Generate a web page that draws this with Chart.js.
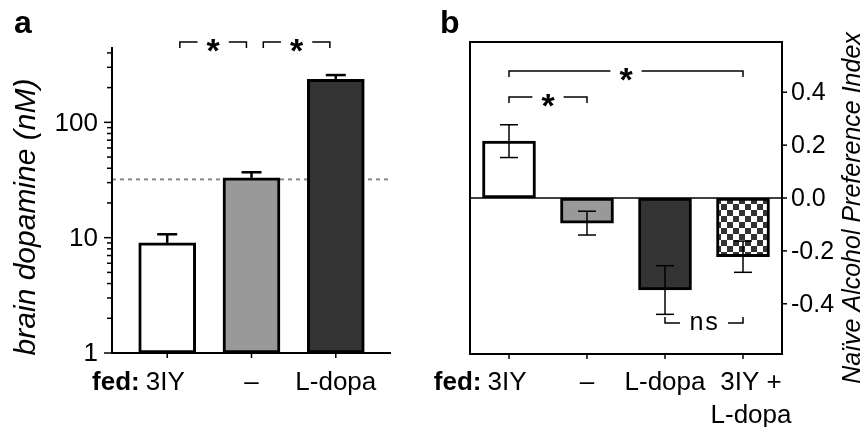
<!DOCTYPE html>
<html>
<head>
<meta charset="utf-8">
<script src="https://cdn.jsdelivr.net/npm/chart.js@4.4.1/dist/chart.umd.min.js"></script>
<style>
body { margin: 0; background: #fff; }
#wrap { position: relative; width: 866px; height: 427px; }
canvas { position: absolute; top: 0; }
#dopa { left: 0; }
#pref { left: 433px; }
</style>
</head>
<body>
<div id="wrap">
<canvas id="dopa" width="433" height="427"></canvas>
<canvas id="pref" width="433" height="427"></canvas>
</div>
<script>
// panel a - brain dopamine (log scale)
const dopaLabels = ['3IY', '–', 'L-dopa']
const dopaValues = [9.0, 33, 236]
const dopaErrors = [1.7, 3.9, 21]
const dopaColors = ['#ffffff', '#999999', '#333333']
const dopaTicks = [1, 10, 100]
const dopaMinorTicks = [2, 3, 4, 5, 6, 7, 8, 9, 20, 30, 40, 50, 60, 70, 80, 90, 200, 300, 400]
const controlLevel = 32
const dopaSig = [[0.15, 0.94, '*'], [1.14, 1.93, '*']]

// panel b - naive alcohol preference
const prefLabels = [['3IY'], ['–'], ['L-dopa'], ['3IY +', 'L-dopa']]
const prefValues = [0.215, -0.095, -0.348, -0.222]
const prefErrors = [0.062, 0.045, 0.092, 0.059]
const prefTicks = [-0.4, -0.2, 0, 0.2, 0.4]
const prefSig = [[0, 3, '*', 'down'], [0, 1, '*', 'down'], [2, 3, 'ns', 'up']]

const FONT = "'Liberation Sans', Arial, sans-serif"

function checkerboard() {
    let c = document.createElement('canvas')
    c.width = 12; c.height = 12
    let g = c.getContext('2d')
    g.fillStyle = '#fff'
    g.fillRect(0, 0, 12, 12)
    g.fillStyle = '#333'
    g.fillRect(0, 0, 6, 6)
    g.fillRect(6, 6, 6, 6)
    return document.getElementById('pref').getContext('2d').createPattern(c, 'repeat')
}
const prefColors = ['#ffffff', '#999999', '#333333', checkerboard()]

function line(ctx, x1, y1, x2, y2) {
    ctx.beginPath()
    ctx.moveTo(x1, y1)
    ctx.lineTo(x2, y2)
    ctx.stroke()
}

function bracket(ctx, x1, x2, y, label, dir, bigFont, baseOff) {
    let end = dir == 'up' ? -6 : 6
    ctx.font = bigFont
    let w = ctx.measureText(label).width
    let mid = (x1 + x2) / 2
    let half = w / 2 + 9
    ctx.strokeStyle = '#000'
    ctx.lineWidth = 1.5
    ctx.beginPath()
    ctx.moveTo(x1, y + end)
    ctx.lineTo(x1, y)
    ctx.lineTo(mid - half, y)
    ctx.moveTo(mid + half, y)
    ctx.lineTo(x2, y)
    ctx.lineTo(x2, y + end)
    ctx.stroke()
    ctx.fillStyle = '#000'
    ctx.textAlign = 'center'
    ctx.textBaseline = 'alphabetic'
    ctx.fillText(label, mid, y + baseOff)
}

function fedLabel(ctx, x, y, first) {
    ctx.font = '26px ' + FONT
    let w = ctx.measureText(first).width
    ctx.textAlign = 'center'
    ctx.textBaseline = 'middle'
    ctx.fillText(first, x, y)
    ctx.font = 'bold 26px ' + FONT
    ctx.textAlign = 'right'
    ctx.fillText('fed:', x - w / 2 - 6, y)
}

const dopaPlugin = {
    id: 'dopaAxes',
    beforeDatasetsDraw(chart) {
        const {ctx, chartArea: a, scales: {y}} = chart
        ctx.save()
        ctx.strokeStyle = '#888'
        ctx.lineWidth = 2
        ctx.setLineDash([4, 4])
        let yy = y.getPixelForValue(controlLevel)
        line(ctx, a.left, yy, a.right - 3, yy)
        ctx.restore()
    },
    afterDatasetsDraw(chart) {
        const {ctx, scales: {x, y}} = chart
        ctx.save()
        ctx.strokeStyle = '#000'
        ctx.lineWidth = 2.5
        dopaValues.forEach((v, i) => {
            let px = x.getPixelForValue(i)
            let top = y.getPixelForValue(v + dopaErrors[i])
            line(ctx, px, y.getPixelForValue(v), px, top)
            line(ctx, px - 10, top, px + 10, top)
        })
        ctx.restore()
    },
    afterDraw(chart) {
        const {ctx, chartArea: a, scales: {x, y}} = chart
        ctx.save()
        ctx.strokeStyle = '#000'
        ctx.fillStyle = '#000'
        ctx.lineWidth = 2
        line(ctx, a.left, a.top, a.left, a.bottom + 1)
        line(ctx, a.left - 1, a.bottom, a.right, a.bottom)
        ctx.lineWidth = 1.5
        dopaMinorTicks.forEach(v => {
            let yy = y.getPixelForValue(v)
            line(ctx, a.left - 5, yy, a.left, yy)
        })
        ctx.font = '26px ' + FONT
        ctx.textAlign = 'right'
        ctx.textBaseline = 'middle'
        dopaTicks.forEach(v => {
            let yy = y.getPixelForValue(v)
            line(ctx, a.left - 8, yy, a.left, yy)
            ctx.fillText(String(v), a.left - 14, yy + 1)
        })
        dopaLabels.forEach((l, i) => {
            let px = x.getPixelForValue(i)
            line(ctx, px, a.bottom, px, a.bottom + 5)
            if (i == 0) {
                fedLabel(ctx, px - 2, 383, l)
            } else {
                ctx.font = '26px ' + FONT
                ctx.textAlign = 'center'
                ctx.fillText(l, px, 383)
            }
        })
        dopaSig.forEach(s => {
            bracket(ctx, x.getPixelForValue(s[0]), x.getPixelForValue(s[1]), 42, s[2], 'down', 'bold 34px ' + FONT, 20)
        })
        // axis title and panel letter
        ctx.save()
        ctx.translate(27, 217)
        ctx.rotate(-Math.PI / 2)
        ctx.font = 'italic 30px ' + FONT
        ctx.textAlign = 'center'
        ctx.textBaseline = 'middle'
        ctx.fillText('brain dopamine (nM)', 0, 0)
        ctx.restore()
        ctx.font = 'bold 32px ' + FONT
        ctx.textAlign = 'left'
        ctx.textBaseline = 'alphabetic'
        ctx.fillText('a', 14, 33)
        ctx.restore()
    }
}

const prefPlugin = {
    id: 'prefAxes',
    beforeDatasetsDraw(chart) {
        const {ctx, chartArea: a, scales: {y}} = chart
        ctx.save()
        ctx.strokeStyle = '#000'
        ctx.lineWidth = 1.5
        let y0 = y.getPixelForValue(0)
        line(ctx, a.left, y0, a.right, y0)
        ctx.restore()
    },
    afterDatasetsDraw(chart) {
        const {ctx, scales: {x, y}} = chart
        ctx.save()
        ctx.strokeStyle = '#000'
        ctx.lineWidth = 1.5
        prefValues.forEach((v, i) => {
            let px = x.getPixelForValue(i)
            let hi = y.getPixelForValue(v + prefErrors[i])
            let lo = y.getPixelForValue(v - prefErrors[i])
            line(ctx, px, hi, px, lo)
            line(ctx, px - 9, hi, px + 9, hi)
            line(ctx, px - 9, lo, px + 9, lo)
        })
        ctx.restore()
    },
    afterDraw(chart) {
        const {ctx, chartArea: a, scales: {x, y}} = chart
        ctx.save()
        ctx.strokeStyle = '#000'
        ctx.fillStyle = '#000'
        ctx.lineWidth = 2
        ctx.strokeRect(a.left, a.top, a.right - a.left, a.bottom - a.top)
        ctx.lineWidth = 1.5
        ctx.font = '25px ' + FONT
        ctx.textAlign = 'left'
        ctx.textBaseline = 'middle'
        prefTicks.forEach(v => {
            let yy = y.getPixelForValue(v)
            line(ctx, a.right, yy, a.right + 5, yy)
            ctx.fillText(v.toFixed(1), a.right + 9, yy + 1)
        })
        prefLabels.forEach((l, i) => {
            let px = x.getPixelForValue(i)
            line(ctx, px, a.bottom, px, a.bottom + 5)
            if (i == 0) {
                fedLabel(ctx, px - 2, 383, l[0])
            } else {
                ctx.font = '26px ' + FONT
                ctx.textAlign = 'center'
                ctx.textBaseline = 'middle'
                let off = l.length > 1 ? 8 : 0
                l.forEach((t, k) => ctx.fillText(t, px + off, 383 + k * 33))
            }
        })
        prefSig.forEach(s => {
            let x1 = x.getPixelForValue(s[0]), x2 = x.getPixelForValue(s[1])
            if (s[2] == 'ns') {
                bracket(ctx, x1, x2, 323, s[2], 'up', '25px "Liberation Mono", "Courier New", monospace', 7)
            } else {
                let yy = s[1] == 3 ? 71 : 97
                bracket(ctx, x1, x2, yy, s[2], 'down', 'bold 34px ' + FONT, 20)
            }
        })
        ctx.save()
        ctx.translate(420, 208)
        ctx.rotate(-Math.PI / 2)
        ctx.font = 'italic 25px ' + FONT
        ctx.textAlign = 'center'
        ctx.textBaseline = 'middle'
        ctx.fillText('Naïve Alcohol Preference Index', 0, 0)
        ctx.restore()
        ctx.font = 'bold 32px ' + FONT
        ctx.textAlign = 'left'
        ctx.textBaseline = 'alphabetic'
        ctx.fillText('b', 7, 33)
        ctx.restore()
    }
}

new Chart(document.getElementById('dopa'), {
    type: 'bar',
    data: {
        datasets: [{
            data: dopaValues.map((v, i) => ({x: i, y: v})),
            backgroundColor: dopaColors,
            borderColor: '#000',
            borderWidth: 3,
            borderSkipped: false,
            barThickness: 57
        }]
    },
    options: {
        responsive: false,
        animation: false,
        events: [],
        layout: {padding: {left: 112, right: 42, top: 47, bottom: 74}},
        plugins: {legend: {display: false}, tooltip: {enabled: false}},
        scales: {
            x: {type: 'linear', display: false, offset: false, min: -0.655, max: 2.655},
            y: {type: 'logarithmic', display: false, min: 1, max: 450}
        }
    },
    plugins: [dopaPlugin]
})

new Chart(document.getElementById('pref'), {
    type: 'bar',
    data: {
        labels: prefLabels.map(l => l.join(' ')),
        datasets: [{
            data: prefValues,
            backgroundColor: prefColors,
            borderColor: '#000',
            borderWidth: 3,
            borderSkipped: false,
            barThickness: 53
        }]
    },
    options: {
        responsive: false,
        animation: false,
        events: [],
        layout: {padding: {left: 37, right: 84, top: 42, bottom: 73}},
        plugins: {legend: {display: false}, tooltip: {enabled: false}},
        scales: {
            x: {display: false},
            y: {display: false, min: -0.59, max: 0.59}
        }
    },
    plugins: [prefPlugin]
})
</script>
</body>
</html>
